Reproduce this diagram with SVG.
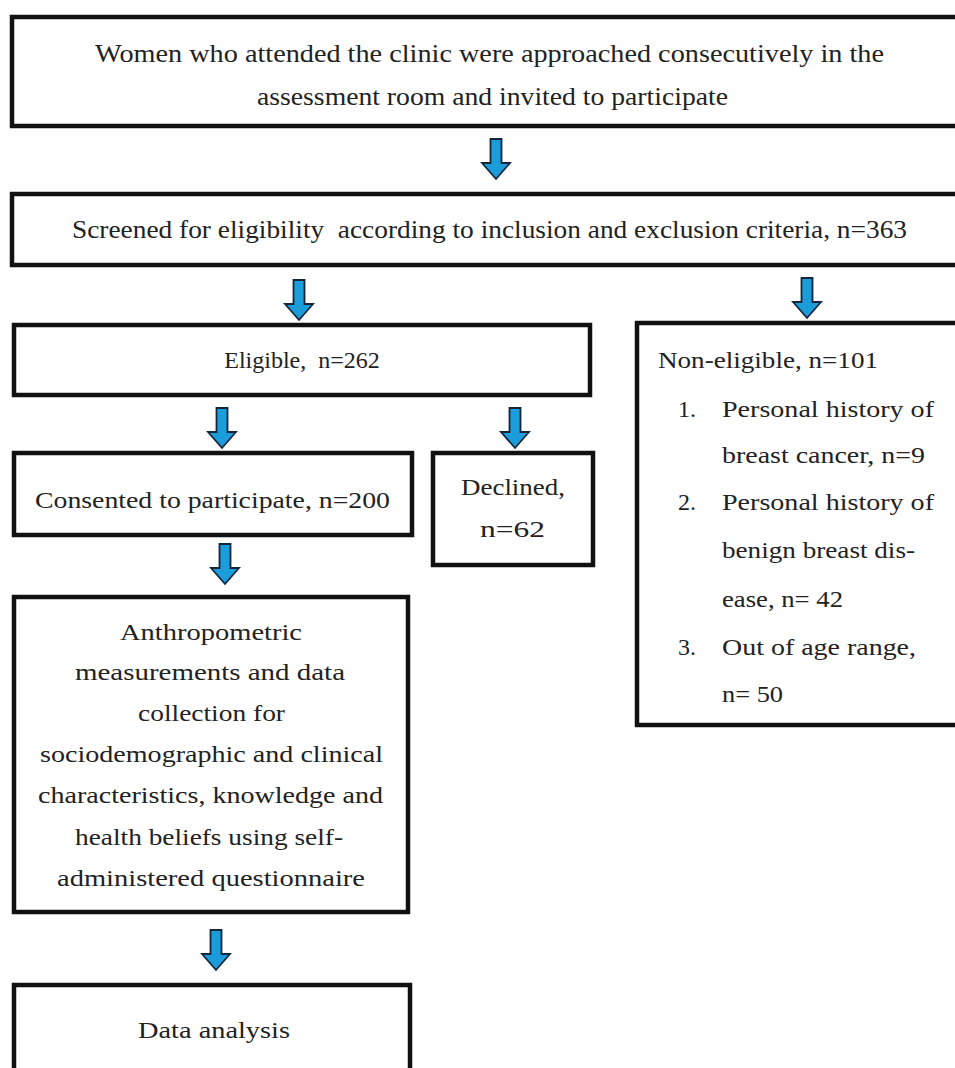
<svg xmlns="http://www.w3.org/2000/svg" xmlns:xlink="http://www.w3.org/1999/xlink" width="955" height="1068" viewBox="0 0 955 1068">
<style>
.box{fill:#fff;stroke:#111;stroke-width:4.5}
.t{font-family:"Liberation Serif","DejaVu Serif",serif;font-size:24px;fill:#222}
.top{font-size:26px}
.arrow{fill:#1c9ddb;stroke:#15253a;stroke-width:1.8;stroke-linejoin:miter}
</style>
<defs>
<path id="arr" d="M-5.5,0 H5.5 V24 H14 L0,40 L-14,24 H-5.5 Z"/>
</defs>
<rect width="955" height="1068" fill="#fff"/>
<g id="connectors" class="arrow">
<use xlink:href="#arr" transform="translate(496,139)"/>
<use xlink:href="#arr" transform="translate(299,280)"/>
<use xlink:href="#arr" transform="translate(807,278)"/>
<use xlink:href="#arr" transform="translate(222,408)"/>
<use xlink:href="#arr" transform="translate(515,408)"/>
<use xlink:href="#arr" transform="translate(225,544)"/>
<use xlink:href="#arr" transform="translate(216,930)"/>
</g>
<g id="n1">
<rect class="box" x="12" y="17" width="960" height="109"/>
<text class="t top" x="95" y="62" textLength="789" lengthAdjust="spacingAndGlyphs">Women who attended the clinic were approached consecutively in the</text>
<text class="t top" x="257" y="105" textLength="471" lengthAdjust="spacingAndGlyphs">assessment room and invited to participate</text>
</g>
<g id="n2">
<rect class="box" x="12" y="194" width="960" height="71"/>
<text class="t top" x="72" y="238" textLength="835" lengthAdjust="spacingAndGlyphs" xml:space="preserve">Screened for eligibility  according to inclusion and exclusion criteria, n=363</text>
</g>
<g id="n3">
<rect class="box" x="14" y="325" width="576" height="70"/>
<text class="t" x="302" y="368" text-anchor="middle" xml:space="preserve">Eligible,  n=262</text>
</g>
<g id="n4">
<rect class="box" x="637" y="323" width="340" height="402"/>
<text class="t" x="658" y="368" textLength="220" lengthAdjust="spacingAndGlyphs">Non-eligible, n=101</text>
<text class="t" x="678" y="417">1.</text>
<text class="t" x="722" y="417" textLength="212" lengthAdjust="spacingAndGlyphs">Personal history of</text>
<text class="t" x="722" y="463" textLength="203" lengthAdjust="spacingAndGlyphs">breast cancer, n=9</text>
<text class="t" x="678" y="510">2.</text>
<text class="t" x="722" y="510" textLength="212" lengthAdjust="spacingAndGlyphs">Personal history of</text>
<text class="t" x="722" y="558" textLength="193" lengthAdjust="spacingAndGlyphs">benign breast dis-</text>
<text class="t" x="722" y="607" textLength="121" lengthAdjust="spacingAndGlyphs">ease, n= 42</text>
<text class="t" x="678" y="655">3.</text>
<text class="t" x="722" y="655" textLength="194" lengthAdjust="spacingAndGlyphs">Out of age range,</text>
<text class="t" x="722" y="702" textLength="61" lengthAdjust="spacingAndGlyphs">n= 50</text>
</g>
<g id="n5">
<rect class="box" x="14" y="453" width="398" height="82"/>
<text class="t" x="35" y="508" textLength="355" lengthAdjust="spacingAndGlyphs">Consented to participate, n=200</text>
</g>
<g id="n6">
<rect class="box" x="433" y="453" width="160" height="112"/>
<text class="t" x="461" y="495" textLength="104" lengthAdjust="spacingAndGlyphs">Declined,</text>
<text class="t" x="480" y="537" textLength="65" lengthAdjust="spacingAndGlyphs">n=62</text>
</g>
<g id="n7">
<rect class="box" x="14" y="597" width="394" height="315"/>
<text class="t" x="120" y="640" textLength="182" lengthAdjust="spacingAndGlyphs">Anthropometric</text>
<text class="t" x="75" y="680" textLength="270" lengthAdjust="spacingAndGlyphs">measurements and data</text>
<text class="t" x="138" y="721" textLength="147" lengthAdjust="spacingAndGlyphs">collection for</text>
<text class="t" x="40" y="762" textLength="343" lengthAdjust="spacingAndGlyphs">sociodemographic and clinical</text>
<text class="t" x="38" y="803" textLength="345" lengthAdjust="spacingAndGlyphs">characteristics, knowledge and</text>
<text class="t" x="75" y="845" textLength="268" lengthAdjust="spacingAndGlyphs">health beliefs using self-</text>
<text class="t" x="57" y="886" textLength="308" lengthAdjust="spacingAndGlyphs">administered questionnaire</text>
</g>
<g id="n8">
<rect class="box" x="14" y="985" width="396" height="120"/>
<text class="t" x="138" y="1038" textLength="152" lengthAdjust="spacingAndGlyphs">Data analysis</text>
</g>
</svg>
